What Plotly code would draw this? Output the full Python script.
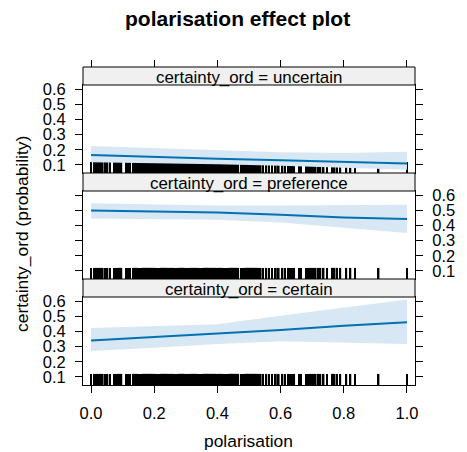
import plotly.graph_objects as go

# ---------------- data ----------------
x_pts = [0.0, 0.2, 0.4, 0.6, 0.8, 1.0]
x_tickvals = [0.0, 0.2, 0.4, 0.6, 0.8, 1.0]
x_ticktext = ["0.0", "0.2", "0.4", "0.6", "0.8", "1.0"]
y_tickvals = [0.1, 0.2, 0.3, 0.4, 0.5, 0.6]
y_ticktext = ["0.1", "0.2", "0.3", "0.4", "0.5", "0.6"]

panel_names = ["uncertain", "preference", "certain"]

uncertain_fit = [0.166, 0.152, 0.141, 0.131, 0.120, 0.109]
uncertain_lower = [0.118, 0.112, 0.104, 0.094, 0.082, 0.068]
uncertain_upper = [0.225, 0.212, 0.198, 0.183, 0.178, 0.187]

preference_fit = [0.499, 0.494, 0.485, 0.470, 0.452, 0.443]
preference_lower = [0.445, 0.443, 0.437, 0.420, 0.385, 0.350]
preference_upper = [0.547, 0.540, 0.532, 0.532, 0.535, 0.537]

certain_fit = [0.341, 0.363, 0.387, 0.410, 0.438, 0.460]
certain_lower = [0.271, 0.292, 0.318, 0.335, 0.326, 0.317]
certain_upper = [0.422, 0.433, 0.448, 0.503, 0.558, 0.611]

rug_x = [
    0.000, 0.011, 0.017, 0.024, 0.030, 0.037, 0.044, 0.052, 0.060, 0.073,
    0.078, 0.082, 0.086, 0.090, 0.093, 0.096, 0.111, 0.114, 0.117, 0.120, 0.123,
    0.134, 0.137, 0.140, 0.143, 0.146, 0.149, 0.152, 0.155, 0.158, 0.161,
    0.164, 0.167, 0.170, 0.173, 0.176, 0.179, 0.182, 0.185, 0.188, 0.191,
    0.194, 0.197, 0.200, 0.203, 0.206, 0.209, 0.212, 0.215, 0.218, 0.221,
    0.224, 0.227, 0.230, 0.233, 0.236, 0.239, 0.242,
    0.248, 0.251, 0.254, 0.257, 0.260, 0.263, 0.266, 0.269, 0.272, 0.275,
    0.278, 0.281, 0.284, 0.287, 0.290, 0.293, 0.296,
    0.301, 0.305, 0.310, 0.314, 0.318, 0.321,
    0.324, 0.327, 0.330, 0.333, 0.336, 0.342, 0.345, 0.348, 0.351, 0.354,
    0.357, 0.360, 0.363, 0.366, 0.369, 0.372, 0.375, 0.378, 0.381, 0.384,
    0.387, 0.390, 0.393, 0.396, 0.403, 0.406, 0.409, 0.412, 0.415, 0.418,
    0.421, 0.424, 0.427, 0.430, 0.439, 0.442, 0.445, 0.448, 0.451, 0.454,
    0.457, 0.460, 0.463, 0.466, 0.475, 0.478, 0.481, 0.484, 0.487, 0.490,
    0.493, 0.496, 0.499, 0.502, 0.505, 0.508, 0.511, 0.514, 0.517, 0.520,
    0.523, 0.526, 0.529, 0.532,
    0.537, 0.544, 0.555, 0.563, 0.573, 0.585, 0.594, 0.606, 0.614, 0.624,
    0.630, 0.636, 0.643, 0.660, 0.665, 0.680, 0.684, 0.692, 0.697, 0.704,
    0.711, 0.719, 0.726, 0.736, 0.747, 0.765, 0.768, 0.771, 0.779, 0.789,
    0.808, 0.821, 0.836, 0.910, 1.000,
]

# ---------------- style ----------------
FONT = "Liberation Sans, Arial, sans-serif"
LINE_COL = "#0072B2"
BAND_COL = "#d7e7f3"
STRIP_COL = "#f0f0f0"
Y_RANGE = [0.047, 0.627]
X_RANGE = [-0.0254, 1.0254]
RUG_TOP = 0.12
RUG_W = 0.0055

fits = [uncertain_fit, preference_fit, certain_fit]
lowers = [uncertain_lower, preference_lower, certain_lower]
uppers = [uncertain_upper, preference_upper, certain_upper]

# panel order top -> bottom : uncertain (y3), preference (y2), certain (y)
axis_ids = ["3", "2", ""]

H = 318.0
plot_h, strip_h = 88.0, 18.0
dom = {
    "": [0, plot_h / H],
    "2": [(plot_h + strip_h) / H, (2 * plot_h + strip_h) / H],
    "3": [(2 * plot_h + 2 * strip_h) / H, (3 * plot_h + 2 * strip_h) / H],
}
strip_dom = {k: [v[1], v[1] + strip_h / H] for k, v in dom.items()}

fig = go.Figure()

for name, fit, lo, up, aid in zip(panel_names, fits, lowers, uppers, axis_ids):
    xa, ya = "x" + aid, "y" + aid
    fig.add_trace(go.Scatter(
        x=x_pts + x_pts[::-1], y=up + lo[::-1], fill="toself",
        fillcolor=BAND_COL, line=dict(width=0), mode="lines",
        xaxis=xa, yaxis=ya, showlegend=False, hoverinfo="skip"))
    fig.add_trace(go.Bar(
        x=rug_x, y=[RUG_TOP - Y_RANGE[0]] * len(rug_x), base=Y_RANGE[0],
        width=RUG_W, marker=dict(color="black", line=dict(width=0)),
        xaxis=xa, yaxis=ya, showlegend=False, hoverinfo="skip"))
    fig.add_trace(go.Scatter(
        x=x_pts, y=fit, mode="lines", line=dict(color=LINE_COL, width=2),
        xaxis=xa, yaxis=ya, showlegend=False, name=name))

# invisible trace for the top tick axis
fig.add_trace(go.Scatter(x=[0.5], y=[None], xaxis="x4", yaxis="y",
                         mode="markers", showlegend=False, hoverinfo="skip"))

tickfont = dict(family=FONT, size=16.5, color="black")
common_x = dict(range=X_RANGE, showgrid=False, zeroline=False, showline=True,
                linecolor="black", linewidth=1, mirror=True,
                tickvals=x_tickvals, ticktext=x_ticktext, tickfont=tickfont,
                tickcolor="black", ticklen=7, tickwidth=1)
common_y = dict(range=Y_RANGE, showgrid=False, zeroline=False, showline=True,
                linecolor="black", linewidth=1, mirror="ticks",
                tickvals=y_tickvals, ticktext=y_ticktext, tickfont=tickfont,
                tickcolor="black", ticklen=7, tickwidth=1, ticks="outside",
                ticklabelstandoff=6)

layout = dict(
    width=467, height=452,
    margin=dict(l=83, r=41, t=67, b=67),
    paper_bgcolor="white", plot_bgcolor="white",
    barmode="overlay",
    xaxis=dict(common_x, anchor="y", ticks="outside", ticklabelstandoff=6),
    xaxis2=dict(common_x, anchor="y2", ticks="", showticklabels=False, matches="x"),
    xaxis3=dict(common_x, anchor="y3", ticks="", showticklabels=False, matches="x"),
    xaxis4=dict(range=X_RANGE, overlaying="x", anchor="free", position=1,
                side="top", ticks="outside", ticklen=7, tickcolor="black",
                tickvals=x_tickvals, showticklabels=False, showgrid=False,
                zeroline=False, showline=False),
    yaxis=dict(common_y, domain=dom[""], anchor="x", side="left"),
    yaxis2=dict(common_y, domain=dom["2"], anchor="x2", side="right"),
    yaxis3=dict(common_y, domain=dom["3"], anchor="x3", side="left"),
)
fig.update_layout(**layout)

shapes = []
annotations = []
for name, aid in zip(panel_names, axis_ids):
    s0, s1 = strip_dom[aid]
    shapes.append(dict(type="rect", xref="paper", yref="paper", x0=0, x1=1,
                       y0=s0, y1=s1, fillcolor=STRIP_COL,
                       line=dict(color="black", width=1), layer="above"))
    annotations.append(dict(text="certainty_ord = " + name, xref="paper",
                            yref="paper", x=0.5, y=s1 - 10.4 / H,
                            xanchor="center", yanchor="middle", showarrow=False,
                            font=dict(family=FONT, size=16.9, color="black")))

annotations.append(dict(text="<b>polarisation effect plot</b>", xref="paper",
                        yref="paper", x=(242.5 - 83) / 343, y=(385 - 18.6) / H,
                        xanchor="center", yanchor="middle", showarrow=False,
                        font=dict(family=FONT, size=21, color="black")))
annotations.append(dict(text="polarisation", xref="paper", yref="paper",
                        x=(253.5 - 83) / 343, y=(385 - 440.9) / H,
                        xanchor="center", yanchor="middle", showarrow=False,
                        font=dict(family=FONT, size=17.4, color="black")))
annotations.append(dict(text="certainty_ord (probability)", xref="paper",
                        yref="paper", x=(19.4 - 83) / 343, y=(385 - 233.5) / H,
                        xanchor="center", yanchor="middle", showarrow=False,
                        textangle=-90,
                        font=dict(family=FONT, size=17.4, color="black")))

fig.update_layout(shapes=shapes, annotations=annotations)
fig.write_html("out.html")
